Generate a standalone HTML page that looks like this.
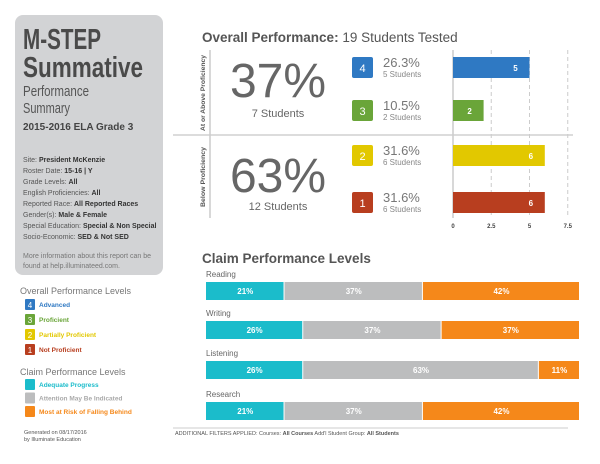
<!DOCTYPE html>
<html><head><meta charset="utf-8"><style>
body{margin:0;background:#fff;width:600px;height:464px;overflow:hidden;font-family:"Liberation Sans",sans-serif}
svg{display:block}
.n{font-family:"Liberation Sans Narrow","Liberation Sans",sans-serif}
</style></head><body>
<svg id="c" width="600" height="464" xmlns="http://www.w3.org/2000/svg">
<rect x="15" y="15" width="148" height="260" rx="8" fill="#d2d3d5"/>
<g>
<text x="23" y="49" font-size="29" font-weight="bold" fill="#4a4a4a" textLength="78" lengthAdjust="spacingAndGlyphs">M-STEP</text>
<text x="23" y="77" font-size="29" font-weight="bold" fill="#4a4a4a" textLength="120" lengthAdjust="spacingAndGlyphs">Summative</text>
<text x="23" y="96" font-size="15" fill="#555" textLength="66" lengthAdjust="spacingAndGlyphs">Performance</text>
<text x="23" y="113" font-size="15" fill="#555" textLength="47" lengthAdjust="spacingAndGlyphs">Summary</text>
<text x="23" y="130" font-size="10" font-weight="bold" fill="#444">2015-2016 ELA Grade 3</text>
<g font-size="7" fill="#555">
<text x="23" y="162">Site: <tspan font-weight="bold" fill="#333">President McKenzie</tspan></text>
<text x="23" y="173">Roster Date: <tspan font-weight="bold" fill="#333">15-16 | Y</tspan></text>
<text x="23" y="184">Grade Levels: <tspan font-weight="bold" fill="#333">All</tspan></text>
<text x="23" y="195">English Proficiencies: <tspan font-weight="bold" fill="#333">All</tspan></text>
<text x="23" y="206">Reported Race: <tspan font-weight="bold" fill="#333">All Reported Races</tspan></text>
<text x="23" y="217">Gender(s): <tspan font-weight="bold" fill="#333">Male &amp; Female</tspan></text>
<text x="23" y="228">Special Education: <tspan font-weight="bold" fill="#333">Special &amp; Non Special</tspan></text>
<text x="23" y="239">Socio-Economic: <tspan font-weight="bold" fill="#333">SED &amp; Not SED</tspan></text>
<text x="23" y="258" fill="#777">More information about this report can be</text>
<text x="23" y="268" fill="#777">found at help.illuminateed.com.</text>
</g></g>
<text x="202" y="42" font-size="13.5" fill="#555"><tspan font-weight="bold">Overall Performance:</tspan> 19 Students Tested</text>
<line x1="173" y1="135" x2="573" y2="135" stroke="#d0d0d0" stroke-width="1.5"/>
<line x1="210" y1="50" x2="210" y2="218" stroke="#ccc" stroke-width="1.5"/>
<text transform="translate(205,131) rotate(-90)" font-size="6.5" font-weight="bold" fill="#555" textLength="76" lengthAdjust="spacingAndGlyphs">At or Above Proficiency</text>
<text transform="translate(205,207) rotate(-90)" font-size="6.5" font-weight="bold" fill="#555" textLength="60" lengthAdjust="spacingAndGlyphs">Below Proficiency</text>
<text x="278" y="97" text-anchor="middle" font-size="48" fill="#666">37%</text>
<text x="278" y="117" text-anchor="middle" font-size="11" fill="#666">7 Students</text>
<text x="278" y="192" text-anchor="middle" font-size="48" fill="#666">63%</text>
<text x="278" y="210" text-anchor="middle" font-size="11" fill="#666">12 Students</text>
<g id="overall"></g>
<text x="202" y="263" font-size="13.5" font-weight="bold" fill="#555">Claim Performance Levels</text>
<g id="claims"></g>
<line x1="173" y1="428" x2="568" y2="428" stroke="#ccc" stroke-width="1"/>
<text x="175" y="435" font-size="5.5" fill="#555">ADDITIONAL FILTERS APPLIED:  Courses: <tspan font-weight="bold">All Courses</tspan>   Add'l Student Group: <tspan font-weight="bold">All Students</tspan></text>
<g>
<text x="20" y="294" font-size="9" fill="#777">Overall Performance Levels</text>
<text x="20" y="375" font-size="9" fill="#777">Claim Performance Levels</text>
<g id="leg"></g>
<text x="24" y="434" font-size="5.5" fill="#555">Generated on 08/17/2016</text>
<text x="24" y="441" font-size="5.5" fill="#555">by Illuminate Education</text>
</g>
</svg>
<script>
const levels=["4","3","2","1"];
const pctLabels=["26.3%","10.5%","31.6%","31.6%"];
const counts=[5,2,6,6];
const levelColors=["#2f79c3","#6aa539","#e2c800","#b83e1f"];
const xTicks=[0,2.5,5,7.5];
const claimNames=["Reading","Writing","Listening","Research"];
const adequate=[21,26,26,21];
const attention=[37,37,63,37];
const risk=[42,37,11,42];
const claimColors=["#1bbccb","#bcbdbe","#f5881a"];
const NS="http://www.w3.org/2000/svg";
function mk(t,a,p){const e=document.createElementNS(NS,t);for(const k in a)e.setAttribute(k,a[k]);p.appendChild(e);return e;}
const x0=453,unit=15.3;const xs=v=>x0+v*unit;
const rowY=[57,100,145,192];
const og=document.getElementById('overall');
xTicks.forEach((t,i)=>{
  if(i>0){const l=mk('line',{x1:xs(t),y1:50,x2:xs(t),y2:218,stroke:'#ccc','stroke-dasharray':'4,3'},og);
  
  }
  const tx=mk('text',{x:xs(t),y:228,'text-anchor':'middle','font-size':6,fill:'#444','font-weight':'bold'},og);tx.textContent=t;
  
  
});
const ax=mk('line',{x1:x0,y1:50,x2:x0,y2:218,stroke:'#ccc','stroke-width':1.5},og);


levels.forEach((lv,i)=>{
  const y=rowY[i];
  const b=mk('rect',{x:352,y:y,width:21,height:21,rx:2,fill:levelColors[i]},og);
  
  
  const bt=mk('text',{x:362.5,y:y+15,'text-anchor':'middle','font-size':11,fill:'#fff'},og);bt.textContent=lv;
  const p=mk('text',{x:383,y:y+10,'font-size':13,fill:'#777'},og);p.textContent=pctLabels[i];
  
  
  const s=mk('text',{x:383,y:y+20,'font-size':8,fill:'#888'},og);s.textContent=counts[i]+' Students';
  
  
  const r=mk('rect',{x:x0,y:y,width:xs(counts[i])-x0,height:21,fill:levelColors[i]},og);
  
  
  const v=mk('text',{x:xs(counts[i])-14,y:y+14,'text-anchor':'middle','font-size':8,'font-weight':'bold',fill:'#fff'},og);v.textContent=counts[i];
});
const cg=document.getElementById('claims');
const cx0=206,cw=374;const cyBar=[282,321,361,402];
claimNames.forEach((n,i)=>{
  const lb=mk('text',{x:206,y:cyBar[i]-5,'font-size':8,fill:'#666'},cg);lb.textContent=n;
  
  
  let acc=0;[adequate[i],attention[i],risk[i]].forEach((v,j)=>{
    const x=cx0+acc/100*cw,w=v/100*cw;acc+=v;
    const r=mk('rect',{x:x,y:cyBar[i],width:w-1,height:18,fill:claimColors[j]},cg);
    
    
    const t=mk('text',{x:x+w/2,y:cyBar[i]+12,'text-anchor':'middle','font-size':8,'font-weight':'bold',fill:'#fff'},cg);t.textContent=v+'%';
  });
});
const lg=document.getElementById('leg');
const ol=[["4","Advanced"],["3","Proficient"],["2","Partially Proficient"],["1","Not Proficient"]];
ol.forEach((o,i)=>{const y=299+i*15;
  const r=mk('rect',{x:25,y:y,width:10,height:11,rx:1,fill:levelColors[i]},lg);
  
  
  const a=mk('text',{x:30,y:y+9,'text-anchor':'middle','font-size':8,fill:'#fff'},lg);a.textContent=o[0];
  const t=mk('text',{x:39,y:y+8,'font-size':6.5,'font-weight':'bold',fill:levelColors[i]},lg);t.textContent=o[1];
  
  
});
const cl=["Adequate Progress","Attention May Be Indicated","Most at Risk of Falling Behind"];
cl.forEach((c,i)=>{const y=379+i*13.5;
  const r=mk('rect',{x:25,y:y,width:10,height:11,rx:1,fill:claimColors[i]},lg);
  
  
  const t=mk('text',{x:39,y:y+8,'font-size':6.5,'font-weight':'bold',fill:i==1?'#aaa':claimColors[i]},lg);t.textContent=c;
  
  
});
</script>
</body></html>
